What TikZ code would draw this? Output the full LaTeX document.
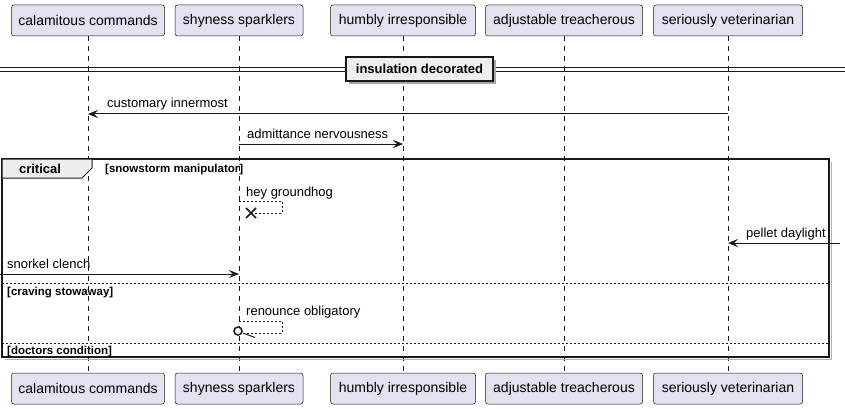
\documentclass[tikz,border=0pt]{standalone}
\usepackage{fontspec}
\setmainfont{Liberation Sans}
\usetikzlibrary{arrows.meta,calc}
\definecolor{pbg}{HTML}{E2E2F0}
\definecolor{pline}{HTML}{181818}
\definecolor{gbg}{HTML}{EEEEEE}
\begin{document}
\begin{tikzpicture}[x=1pt,y=-1pt,
  part/.style={draw=pline,fill=pbg,line width=0.5pt,rounded corners=2.5pt,minimum height=31pt,inner sep=0pt,font=\fontsize{14}{16}\selectfont,text=black},
  life/.style={draw=pline,line width=0.5pt,dash pattern=on 5pt off 5pt},
  msg/.style={draw=pline,line width=1pt,-{Stealth[length=10pt,width=8pt,inset=4pt]}},
  ret/.style={draw=pline,line width=1pt,dash pattern=on 2pt off 2pt},
  lbl/.style={anchor=base west,inner sep=0pt,font=\fontsize{13}{15}\selectfont,text=black},
  guard/.style={anchor=base west,inner sep=0pt,font=\bfseries\fontsize{11.5}{13}\selectfont,text=black},
  sep/.style={draw=pline,line width=1pt,dash pattern=on 2pt off 2pt},
]
\useasboundingbox (0,0) rectangle (845,409);
% participants
\node[part,minimum width=153pt] (p1) at (88,20.5) {calamitous commands};
\node[part,minimum width=128pt] (p2) at (239,20.5) {shyness sparklers};
\node[part,minimum width=145pt] (p3) at (403,20.5) {humbly irresponsible};
\node[part,minimum width=157pt] (p4) at (564,20.5) {adjustable treacherous};
\node[part,minimum width=149pt] (p5) at (728,20.5) {seriously veterinarian};
\node[part,minimum width=153pt] (b1) at (88,388.5) {calamitous commands};
\node[part,minimum width=128pt] (b2) at (239,388.5) {shyness sparklers};
\node[part,minimum width=145pt] (b3) at (403,388.5) {humbly irresponsible};
\node[part,minimum width=157pt] (b4) at (564,388.5) {adjustable treacherous};
\node[part,minimum width=149pt] (b5) at (728,388.5) {seriously veterinarian};
% lifelines
\foreach \i in {1,...,5} {\draw[life] (p\i.south) -- (b\i.north);}
% divider
\draw[pline,line width=1pt] (0,68) -- (845,68) (0,71.5) -- (845,71.5);
\fill[black!35] (349,60) rectangle (496,84);
\node[draw=pline,fill=gbg,line width=1.5pt,minimum width=147pt,minimum height=24pt,inner sep=0pt,font=\bfseries\fontsize{13}{15}\selectfont] (div) at (419.5,69) {insulation decorated};
% messages before group
\coordinate (y1) at (0,114);
\draw[msg] (p5 |- y1) -- (p1 |- y1);
\node[lbl] (t1) at (107,108) {customary innermost};
\coordinate (y2) at (0,144);
\draw[msg] (p2 |- y2) -- (p3 |- y2);
\node[lbl] (t2) at (247,138) {admittance nervousness};
% critical group
\draw[black!30,line width=1.5pt] (831.5,162) -- (831.5,359.5) -- (5,359.5);
\draw[pline,line width=1.5pt] (2,159) rectangle (829,357);
\draw[pline,fill=gbg,line width=1pt] (2,159) -- (92,159) -- (92,168) -- (82,178) -- (2,178) -- cycle;
\node[anchor=base,inner sep=0pt,font=\bfseries\fontsize{13}{15}\selectfont] (crit) at (40,173) {critical};
\node[guard] (g1) at (105,172) {[snowstorm manipulator]};
% hey groundhog
\coordinate (y3) at (0,201);
\draw[ret] (p2 |- y3) -- ++(43,0) -- ++(0,12) -- ++(-32,0);
\draw[pline,line width=1.5pt] (246,208) -- (256,218) (246,218) -- (256,208);
\node[lbl] (t3) at (246,196) {hey groundhog};
% pellet daylight
\coordinate (e1) at (840,243);
\draw[msg] (e1) -- (p5 |- e1);
\node[lbl] (t4) at (746,237) {pellet daylight};
% snorkel clench
\coordinate (e2) at (0,274);
\draw[msg] (e2) -- (p2 |- e2);
\node[lbl] (t5) at (7,268) {snorkel clench};
% separator 1
\draw[sep] (2,283) -- (829,283);
\node[guard] (g2) at (7,295) {[craving stowaway]};
% renounce obligatory
\coordinate (y4) at (0,321);
\draw[ret] (p2 |- y4) -- ++(43,0) -- ++(0,12) -- ++(-38,0);
\draw[pline,line width=1.5pt,fill=white] (238,331) circle[radius=4pt];
\draw[pline,line width=1pt] (243,333) -- (255,337.5);
\node[lbl] (t6) at (246,315) {renounce obligatory};
% separator 2
\draw[sep] (2,343) -- (829,343);
\node[guard] (g3) at (7,354.5) {[doctors condition]};
\end{tikzpicture}
\end{document}
